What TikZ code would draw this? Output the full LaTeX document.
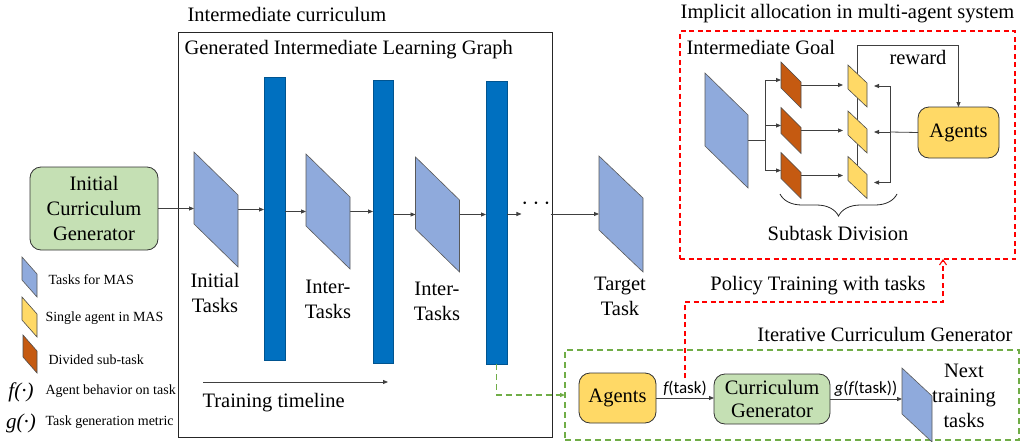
\documentclass[tikz,border=0pt]{standalone}
\usepackage{fontspec}
\setmainfont{Liberation Serif}
\newfontfamily\calfont{Carlito}
\usetikzlibrary{positioning,arrows.meta,decorations.pathreplacing,calc}

\definecolor{taskblue}{HTML}{8FAADC}
\definecolor{barblue}{HTML}{0070C0}
\definecolor{gengreen}{HTML}{C5E0B4}
\definecolor{agentyellow}{HTML}{FFD966}
\definecolor{subtaskorange}{HTML}{C55A11}
\definecolor{dashgreen}{HTML}{70AD47}
\definecolor{linegray}{HTML}{404040}

% parallelogram drawn on the frame of an empty node: name, slant, style
\newcommand{\paratask}[3]{%
  \draw[#3] (#1.north west) -- ([yshift=-#2pt]#1.north east) -- (#1.south east)
    -- ([yshift=#2pt]#1.south west) -- cycle;}

\begin{document}
\begin{tikzpicture}[x=1pt,y=-1pt,
    hold/.style={inner sep=0pt, outer sep=0pt},
    lbl/.style={font=\rmfamily\fontsize{20.5}{25}\selectfont, align=center},
    small/.style={font=\rmfamily\fontsize{14}{17}\selectfont},
    sanslab/.style={font=\calfont\fontsize{17}{20}\selectfont, inner sep=2pt},
    bar/.style={hold, fill=barblue, draw=barblue!75!black, line width=0.6pt},
    roundbox/.style={hold, draw=black!80, line width=0.8pt, rounded corners=11pt, lbl},
    tip/.style={-{Triangle[length=5pt,width=4pt]}},
    arr/.style={tip, draw=linegray, line width=0.8pt},
    conn/.style={draw=linegray, line width=0.8pt},
    bluetask/.style={fill=taskblue, draw=black!65, line width=0.6pt},
    yellowtask/.style={fill=agentyellow, draw=black!70, line width=0.6pt},
    orangetask/.style={fill=subtaskorange, draw=black!70, line width=0.6pt},
    reddash/.style={draw=red, line width=1.1pt, dash pattern=on 5pt off 3.5pt},
    greendash/.style={draw=dashgreen, line width=1.1pt, dash pattern=on 6pt off 4pt}]

\useasboundingbox (0,0) rectangle (1021,442);

% frames
\node[hold, draw=black!85, line width=1pt, minimum width=374pt, minimum height=405pt] (ilg) at (365,234.5) {};
\node[hold, reddash, minimum width=335pt, minimum height=228pt] (mas) at (847.5,145) {};
\node[hold, greendash, minimum width=454pt, minimum height=90pt] (itc) at (792,395) {};
\node[lbl, anchor=west] (t1) at (184,14) {Intermediate curriculum};
\node[lbl, anchor=west] (t2) at (181,50) {Generated Intermediate Learning Graph};
\node[lbl] (t3) at (847.5,14) {Implicit allocation in multi-agent system};
\node[lbl, anchor=east] (t4) at (1016,334) {Iterative Curriculum Generator};

% learning graph
\node[roundbox, fill=gengreen, minimum width=128pt, minimum height=83pt] (icg) at (94,208.5) {Initial\\Curriculum\\Generator};
\node[hold, minimum width=44pt, minimum height=115pt] (p1) at (216,209.5) {};
\node[hold, minimum width=44pt, minimum height=115pt] (p2) at (328,211.5) {};
\node[hold, minimum width=44pt, minimum height=115pt] (p3) at (437.5,214.5) {};
\node[hold, minimum width=44pt, minimum height=116pt] (tt) at (621,214) {};
\node[hold, minimum width=21pt, minimum height=283pt, bar] (b1) at (274.5,218.5) {};
\node[hold, minimum width=20pt, minimum height=283pt, bar] (b2) at (383,221.5) {};
\node[hold, minimum width=21pt, minimum height=283pt, bar] (b3) at (496.5,222.5) {};
\node[hold, font=\fontsize{24}{24}\selectfont] (dots) at (536,204) {$\cdots$};
\node[lbl] (l1) at (215,293) {Initial\\Tasks};
\node[lbl] (l2) at (328,299) {Inter-\\Tasks};
\node[lbl] (l3) at (437,301) {Inter-\\Tasks};
\node[lbl] (l4) at (620,296) {Target\\Task};

\draw[arr] (icg.east) -- (icg.east -| p1.west);
\draw[arr] (p1.east) -- (p1.east -| b1.west);
\draw[arr] (b1.east |- p2.west) -- (p2.west);
\draw[arr] (p2.east) -- (p2.east -| b2.west);
\draw[arr] (b2.east |- p3.west) -- (p3.west);
\draw[arr] (p3.east) -- (p3.east -| b3.west);
\draw[arr] (b3.east |- tt.west) -- (dots.west |- tt.west);
\draw[arr] (dots.east |- tt.west) -- (tt.west);

\paratask{p1}{43}{bluetask}
\paratask{p2}{43}{bluetask}
\paratask{p3}{43}{bluetask}
\paratask{tt}{42}{bluetask}

\coordinate (tls) at (203,382);
\coordinate (tle) at (388,382);
\draw[arr] (tls) -- (tle);
\node[lbl, anchor=west] (tlt) at (199,403) {Training timeline};

% legend
\node[hold, minimum width=15pt, minimum height=40pt] (g1) at (29.5,277) {};
\node[hold, minimum width=15pt, minimum height=40pt] (g2) at (29.5,317) {};
\node[hold, minimum width=14pt, minimum height=38pt] (g3) at (30,354) {};
\paratask{g1}{17}{bluetask}
\paratask{g2}{17}{yellowtask}
\paratask{g3}{16}{orangetask}
\node[small, anchor=west] (gt1) at (45,280) {Tasks for MAS};
\node[small, anchor=west] (gt2) at (42,318) {Single agent in MAS};
\node[small, anchor=west] (gt3) at (45,360) {Divided sub-task};
\node[font=\rmfamily\fontsize{21}{21}\selectfont\itshape] (gf) at (21,392) {f(·)};
\node[small, anchor=west] (gt4) at (42,391) {Agent behavior on task};
\node[font=\rmfamily\fontsize{21}{21}\selectfont\itshape] (gg) at (21,423) {g(·)};
\node[small, anchor=west] (gt5) at (42,422) {Task generation metric};

% multi-agent system
\node[lbl, anchor=west] (igt) at (683,47) {Intermediate Goal};
\node[hold, minimum width=43pt, minimum height=115pt] (goal) at (726.5,130.5) {};
\node[hold, minimum width=20pt, minimum height=46pt] (o1) at (791,85) {};
\node[hold, minimum width=20pt, minimum height=46pt] (o2) at (791,130.5) {};
\node[hold, minimum width=20pt, minimum height=46pt] (o3) at (791,175.5) {};
\node[hold, minimum width=19pt, minimum height=42pt] (y1) at (857.5,86) {};
\node[hold, minimum width=19pt, minimum height=42pt] (y2) at (857.5,132) {};
\node[hold, minimum width=19pt, minimum height=42pt] (y3) at (857.5,177.5) {};
\node[roundbox, fill=agentyellow, minimum width=81pt, minimum height=51pt] (ag) at (958.5,132.5) {Agents};
\node[lbl] (rwl) at (918,57) {reward};
\coordinate (split) at (765,140);
\coordinate (rw) at (857.5,45);
\coordinate (back) at (890,132);

\draw[conn] (goal.east |- split) -- (split);
\foreach \o in {o1,o2,o3}
  \draw[arr] (split) |- ([yshift=5pt]\o.west);
\foreach \o/\y in {o1/y1,o2/y2,o3/y3}
  \draw[arr, shorten >=5pt] (\o.east) -- (\o.east -| \y.west);
\draw[arr] (y3.center) -- (rw) -| (ag.north);
\draw[conn] (ag.west) -- (back);
\draw[arr, shorten >=7pt] (back) |- (y1.east);
\draw[arr, shorten >=7pt] (back) -- (y2.east);
\draw[arr, shorten >=7pt] (back) |- ([yshift=-5pt]y3.east);

\paratask{goal}{42}{bluetask}
\paratask{o1}{20}{orangetask}
\paratask{o2}{20}{orangetask}
\paratask{o3}{20}{orangetask}
\paratask{y1}{18}{yellowtask}
\paratask{y2}{18}{yellowtask}
\paratask{y3}{18}{yellowtask}

\coordinate (brl) at (780,194);
\coordinate (brr) at (897,194);
\draw[black!85, line width=0.8pt, decorate, decoration={brace, amplitude=22pt}] (brr) -- (brl);
\node[lbl] (sd) at (838,233) {Subtask Division};

% iterative curriculum generator
\node[roundbox, fill=agentyellow, minimum width=77pt, minimum height=50pt] (ag2) at (617.5,398) {Agents};
\node[roundbox, fill=gengreen, minimum width=116pt, minimum height=50pt, font=\rmfamily\fontsize{20.5}{23}\selectfont] (cg) at (772,399) {Curriculum\\Generator};
\node[hold, minimum width=30pt, minimum height=74pt] (nt) at (917,405) {};
\node[lbl] (ntl) at (964,396) {Next\\training\\tasks};

\draw[arr] (ag2.east) -- node[above, sanslab] (flab) {\itshape f\upshape(task)} (ag2.east -| cg.west);
\draw[arr] (cg.east) -- node[above, sanslab] (glab) {\itshape g\upshape(\itshape f\upshape(task))} (cg.east -| nt.west);
\paratask{nt}{28}{bluetask}

\coordinate (polc) at (943,302);
\draw[reddash, -{Straight Barb[length=5pt,width=7pt]}] (flab.north) |- (polc) -- (polc |- mas.south);
\node[lbl] (ptl) at (818,286) {Policy Training with tasks};
\draw[greendash, tip] (b3.south) |- (itc.west);

\end{tikzpicture}
\end{document}
